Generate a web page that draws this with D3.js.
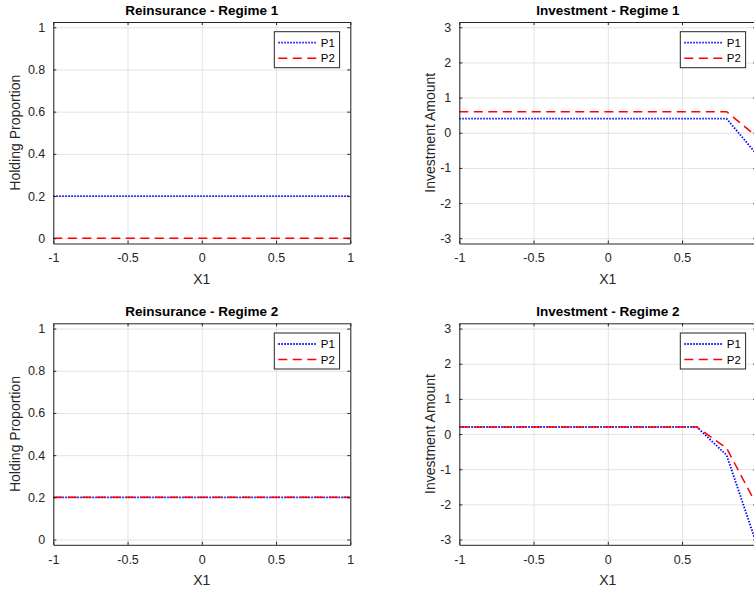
<!DOCTYPE html>
<html>
<head>
<meta charset="utf-8">
<script src="https://cdn.jsdelivr.net/npm/d3@7"></script>
<style>
  html, body { margin: 0; padding: 0; background: #fff; overflow: hidden; }
  body { width: 754px; height: 590px; }
  svg { display: block; font-family: "Liberation Sans", Arial, sans-serif; }
  .axis-label { font-size: 14px; fill: #262626; }
  .title { font-size: 13.5px; font-weight: bold; fill: #000; }
  .legend-text { font-size: 11.5px; fill: #000; }
</style>
</head>
<body>
<div id="chart"></div>
<script>
// x grid of the solution
const xValues = [-1, -0.8, -0.6, -0.4, -0.2, 0, 0.2, 0.4, 0.6, 0.8, 1];

// reinsurance (holding proportion)
const reinsR1P1 = [0.2, 0.2, 0.2, 0.2, 0.2, 0.2, 0.2, 0.2, 0.2, 0.2, 0.2];
const reinsR1P2 = [0, 0, 0, 0, 0, 0, 0, 0, 0, 0, 0];
const reinsR2P1 = [0.2, 0.2, 0.2, 0.2, 0.2, 0.2, 0.2, 0.2, 0.2, 0.2, 0.2];
const reinsR2P2 = [0.2, 0.2, 0.2, 0.2, 0.2, 0.2, 0.2, 0.2, 0.2, 0.2, 0.2];

// investment amount
const investR1P1 = [0.4, 0.4, 0.4, 0.4, 0.4, 0.4, 0.4, 0.4, 0.4, 0.4, -0.6];
const investR1P2 = [0.6, 0.6, 0.6, 0.6, 0.6, 0.6, 0.6, 0.6, 0.6, 0.6, -0.1];
const investR2P1 = [0.2, 0.2, 0.2, 0.2, 0.2, 0.2, 0.2, 0.2, 0.2, -0.6, -3.1];
const investR2P2 = [0.2, 0.2, 0.2, 0.2, 0.2, 0.2, 0.2, 0.2, 0.2, -0.4, -2.0];

// ticks
const xTicks = [-1, -0.5, 0, 0.5, 1];
const reinsTicks = [0, 0.2, 0.4, 0.6, 0.8, 1];
const investTicks = [-3, -2, -1, 0, 1, 2, 3];
const seriesNames = ['P1', 'P2'];

const panels = [
    { title: 'Reinsurance - Regime 1', ylabel: 'Holding Proportion', x0: 53.3, y0: 22, labelOff: -33,
      ydom: [-0.025, 1.025], yticks: reinsTicks, series: [reinsR1P1, reinsR1P2] },
    { title: 'Investment - Regime 1', ylabel: 'Investment Amount', x0: 459.3, y0: 22, labelOff: -24,
      ydom: [-3.15, 3.15], yticks: investTicks, series: [investR1P1, investR1P2] },
    { title: 'Reinsurance - Regime 2', ylabel: 'Holding Proportion', x0: 53.3, y0: 323.3, labelOff: -33,
      ydom: [-0.025, 1.025], yticks: reinsTicks, series: [reinsR2P1, reinsR2P2] },
    { title: 'Investment - Regime 2', ylabel: 'Investment Amount', x0: 459.3, y0: 323.3, labelOff: -24,
      ydom: [-3.15, 3.15], yticks: investTicks, series: [investR2P1, investR2P2] }
];

const panelW = 297;
const panelH = 221.5;
const tickLen = 3;
const axisColor = '#262626';
const lineStyles = [
    { color: '#0000ff', dash: '1.5,1.5', width: 1.8 },
    { color: '#ff0000', dash: '9,5.5', width: 1.5 }
];

// matlab style tick text: plain hyphen for negatives
const fmt = d => String(d);

const svg = d3.select('#chart').append('svg')
    .attr('width', 860)
    .attr('height', 590);

panels.forEach(p => drawPanel(p));

function drawPanel(p) {
    const g = svg.append('g').attr('transform', `translate(${p.x0},${p.y0})`);

    const x = d3.scaleLinear().domain([-1, 1]).range([0, panelW]);
    const y = d3.scaleLinear().domain(p.ydom).range([panelH, 0]);

    // grid
    g.append('g')
        .attr('transform', `translate(0,${panelH})`)
        .call(d3.axisBottom(x).tickValues(xTicks).tickSize(-panelH).tickFormat(''))
        .call(s => s.select('.domain').remove())
        .selectAll('line').attr('stroke', '#e3e3e3').attr('stroke-width', 1);
    g.append('g')
        .call(d3.axisLeft(y).tickValues(p.yticks).tickSize(-panelW).tickFormat(''))
        .call(s => s.select('.domain').remove())
        .selectAll('line').attr('stroke', '#e3e3e3').attr('stroke-width', 1);

    // data lines
    const line = d3.line()
        .x((d, i) => x(xValues[i]))
        .y(d => y(d));

    p.series.forEach((vals, k) => {
        g.append('path')
            .datum(vals)
            .attr('d', line)
            .attr('fill', 'none')
            .attr('stroke', lineStyles[k].color)
            .attr('stroke-width', lineStyles[k].width)
            .attr('stroke-dasharray', lineStyles[k].dash);
    });

    // axes (ticks inside, box on)
    const xb = g.append('g')
        .attr('transform', `translate(0,${panelH})`)
        .call(d3.axisBottom(x).tickValues(xTicks).tickSizeInner(-tickLen).tickSizeOuter(0)
            .tickPadding(10).tickFormat(fmt));
    const xt = g.append('g')
        .call(d3.axisTop(x).tickValues(xTicks).tickSizeInner(-tickLen).tickSizeOuter(0).tickFormat(''));
    const yl = g.append('g')
        .call(d3.axisLeft(y).tickValues(p.yticks).tickSizeInner(-tickLen).tickSizeOuter(0)
            .tickPadding(8).tickFormat(fmt));
    const yr = g.append('g')
        .attr('transform', `translate(${panelW},0)`)
        .call(d3.axisRight(y).tickValues(p.yticks).tickSizeInner(-tickLen).tickSizeOuter(0).tickFormat(''));

    [xb, xt, yl, yr].forEach(a => {
        a.attr('font-family', null).attr('font-size', null);
        a.select('.domain').attr('stroke', axisColor).attr('stroke-width', 1);
        a.selectAll('.tick line').attr('stroke', axisColor);
        a.selectAll('.tick text').attr('fill', axisColor).style('font-size', '12.5px');
    });

    // title
    g.append('text')
        .attr('class', 'title')
        .attr('x', panelW / 2)
        .attr('y', -7)
        .attr('text-anchor', 'middle')
        .text(p.title);

    // axis labels
    g.append('text')
        .attr('class', 'axis-label')
        .attr('x', panelW / 2)
        .attr('y', panelH + 40)
        .attr('text-anchor', 'middle')
        .text('X1');

    g.append('text')
        .attr('class', 'axis-label')
        .attr('transform', 'rotate(-90)')
        .attr('x', -panelH / 2)
        .attr('y', p.labelOff)
        .attr('text-anchor', 'middle')
        .text(p.ylabel);

    // legend
    const lgW = 65.3, lgH = 36;
    const lg = g.append('g').attr('transform', `translate(${panelW - 10.7 - lgW},9.7)`);
    lg.append('rect')
        .attr('width', lgW).attr('height', lgH)
        .attr('fill', '#fff').attr('stroke', axisColor).attr('stroke-width', 1);
    seriesNames.forEach((name, k) => {
        const ly = 11 + k * 15.6;
        lg.append('line')
            .attr('x1', 4).attr('x2', 42)
            .attr('y1', ly).attr('y2', ly)
            .attr('stroke', lineStyles[k].color)
            .attr('stroke-width', lineStyles[k].width)
            .attr('stroke-dasharray', lineStyles[k].dash);
        lg.append('text')
            .attr('class', 'legend-text')
            .attr('x', 46.5)
            .attr('y', ly)
            .attr('dy', '0.35em')
            .text(name);
    });
}
</script>
</body>
</html>
